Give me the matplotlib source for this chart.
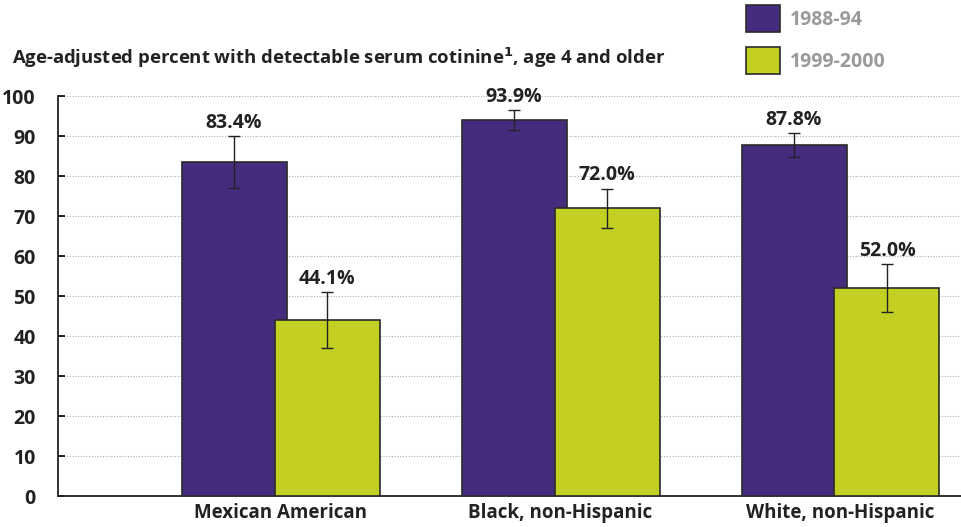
import matplotlib
matplotlib.use("Agg")
import matplotlib.pyplot as plt
import numpy as np

# values
groups = ["Mexican American", "Black, non-Hispanic", "White, non-Hispanic"]
series = ["1988-94", "1999-2000"]
vals_8894 = [83.4, 93.9, 87.8]
vals_9900 = [44.1, 72.0, 52.0]
lo_8894 = [77.1, 91.5, 84.8]
hi_8894 = [90.0, 96.4, 90.7]
lo_9900 = [37.1, 67.1, 46.0]
hi_9900 = [51.0, 76.8, 58.0]
yticks = [0, 10, 20, 30, 40, 50, 60, 70, 80, 90, 100]

purple = "#452c7f"
green = "#c3cf22"
edge = "#2a2a2a"

plt.rcParams["font.family"] = ["Open Sans", "DejaVu Sans"]
plt.rcParams["font.weight"] = "bold"

fig = plt.figure(figsize=(9.62, 5.27), dpi=100)
ax = fig.add_axes([58 / 962, 1 - 496 / 527, 1 - 58 / 962, 400 / 527])

x = np.arange(len(groups))
w = 0.375
off = 0.166

for vals, lo, hi, col, dx, lab in [
    (vals_8894, lo_8894, hi_8894, purple, -off, series[0]),
    (vals_9900, lo_9900, hi_9900, green, off, series[1]),
]:
    v = np.array(vals)
    err = [v - np.array(lo), np.array(hi) - v]
    ax.bar(x + dx, v, w, color=col, edgecolor=edge, linewidth=1.2, label=lab, zorder=3)
    ax.errorbar(x + dx, v, yerr=err, fmt="none", ecolor="#222222", elinewidth=1,
                capsize=4, capthick=1, zorder=4)
    for xi, vi, hi_i in zip(x + dx, v, hi):
        ax.annotate(f"{vi:.1f}%", (xi, hi_i), xytext=(0, 2.5), textcoords="offset points",
                    ha="center", va="bottom", fontsize=14, fontweight="bold", color="#222222")

ax.set_xlim(-0.795, 2.434)
ax.set_ylim(0, 100)
ax.set_yticks(yticks)
ax.set_yticklabels([str(t) for t in yticks], fontsize=14, fontweight="bold", color="#222222")
ax.set_xticks(x)
ax.set_xticklabels(groups, fontsize=13.5, fontweight="bold", color="#222222")
ax.tick_params(axis="x", length=0, pad=5)
ax.tick_params(axis="y", direction="in", length=5, width=1.2, pad=16)
for t in ax.get_yticklabels():
    t.set_horizontalalignment("right")

ax.yaxis.grid(True, linestyle=(0, (1, 1.5)), color="#b0b0b0", linewidth=0.8, zorder=0)
ax.set_axisbelow(True)
ax.spines["top"].set_visible(False)
ax.spines["right"].set_visible(False)
ax.spines["left"].set_linewidth(1.3)
ax.spines["bottom"].set_linewidth(1.3)
ax.spines["left"].set_color("#222222")
ax.spines["bottom"].set_color("#222222")

fig.text(12 / 962, 1 - 58 / 527, "Age-adjusted percent with detectable serum cotinine$^{\\mathbf{1}}$, age 4 and older",
         fontsize=13.3, fontweight="bold", color="#222222", va="center", ha="left")

fig.legend(loc="upper left", bbox_to_anchor=(746 / 962, 1 - 5 / 527), frameon=False,
           fontsize=14, handlelength=1.75, handleheight=1.75, labelspacing=0.8,
           handletextpad=0.5, borderpad=0, borderaxespad=0, labelcolor="#9a9a9a")

fig.savefig("out.png", dpi=100)
